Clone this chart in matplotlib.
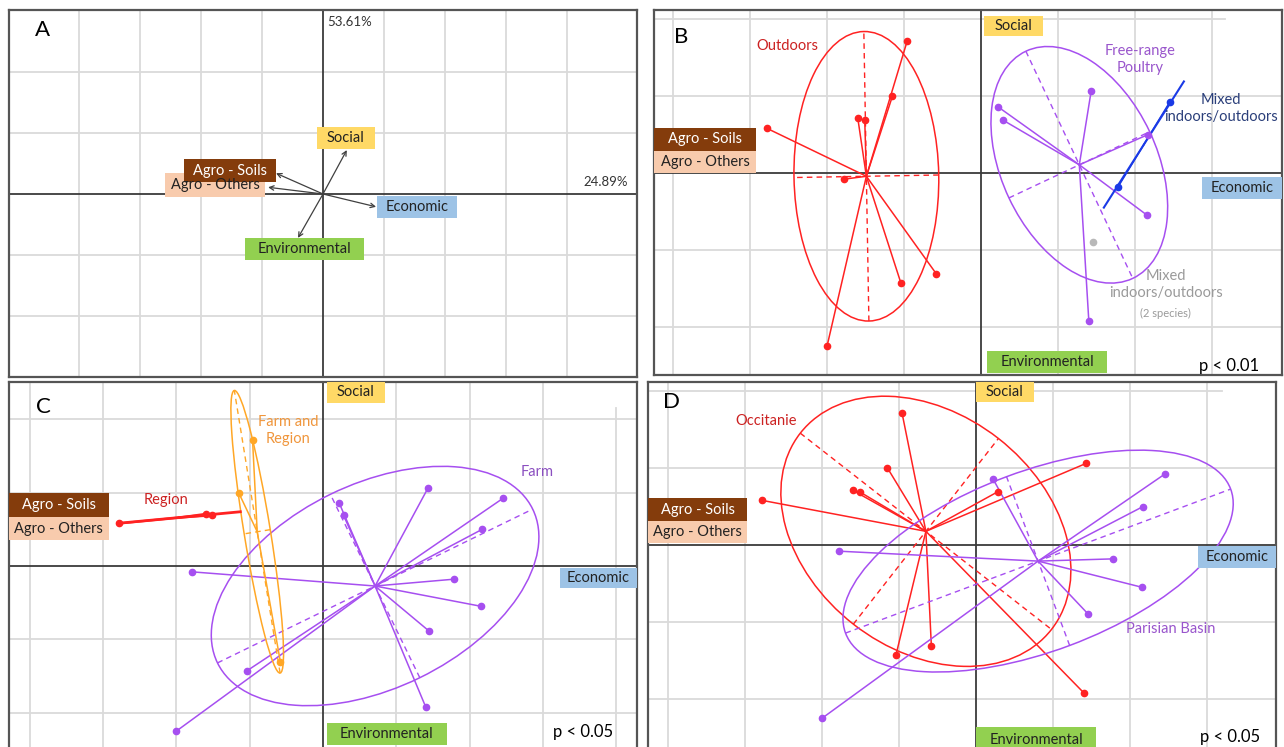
import numpy as np
import matplotlib
matplotlib.use("Agg")
import matplotlib.pyplot as plt
from matplotlib.patches import Ellipse, Rectangle

plt.rcParams['font.family'] = ['Lato', 'DejaVu Sans']

# dimension arrows of panel A (first two axes)
dims = ['Social', 'Agro - Soils', 'Agro - Others', 'Economic', 'Environmental']
dim_x = [0.39, -0.77, -0.90, 0.87, -0.41]
dim_y = [0.72, 0.34, 0.11, -0.21, -0.72]
axis_pct = ['24.89%', '53.61%']

# the 18 farms, same coordinates in panels B, C and D
farm_x = [-0.96, -1.15, -1.60, -1.51, -2.78, -1.78, -2.00, -1.04, -0.58,
          1.43, 0.22, 0.28, 2.17, 2.16, 1.40, 1.78, 2.45, 1.45]
farm_y = [1.71, 1.00, 0.71, 0.69, 0.58, -0.08, -2.25, -1.43, -1.31,
          1.06, 0.86, 0.69, 0.50, -0.55, -1.92, -0.18, 0.92, -0.89]

# group of each farm per panel
group_b = ['Outdoors'] * 9 + ['Free-range Poultry'] * 6 + ['Mixed'] * 2 + ['Mixed 2 species']
group_c = ['Farm and Region', 'Farm and Region', 'Region', 'Region', 'Region',
           'Farm', 'Farm', 'Farm', 'Farm and Region'] + ['Farm'] * 9
group_d = ['Occitanie'] * 5 + ['Parisian Basin'] * 2 + ['Occitanie'] * 3 + \
          ['Parisian Basin', 'Occitanie', 'Parisian Basin', 'Parisian Basin', 'Occitanie',
           'Parisian Basin', 'Parisian Basin', 'Parisian Basin']

# ellipses: half major axis, half minor axis, angle (deg)
ell_b = ['Outdoors', 'Free-range Poultry', 'Mixed', 'Mixed 2 species']
ell_b_a = [1.88, 1.63, 0.97, 0.0]
ell_b_b = [0.94, 1.01, 0.0, 0.0]
ell_b_ang = [91.0, -64.8, 57.6, 0.0]

ell_c = ['Farm', 'Farm and Region', 'Region']
ell_c_a = [2.39, 1.95, 0.84]
ell_c_b = [1.39, 0.18, 0.0]
ell_c_ang = [26.0, 99.2, 5.4]

ell_d = ['Occitanie', 'Parisian Basin']
ell_d_a = [2.07, 2.67]
ell_d_b = [1.53, 1.17]
ell_d_ang = [-38.0, 20.5]

GRID = '#dadada'
AXIS = '#3a3a3a'
RED = '#ff2222'
PURPLE = '#a64ff0'
BLUE = '#1a3ae6'
ORANGE = '#ffa726'
GREY = '#b8b8b8'

box_style = {
    'Social': ('#ffd966', '#222222'),
    'Agro - Soils': ('#843c0c', 'white'),
    'Agro - Others': ('#f8cbad', '#222222'),
    'Economic': ('#9dc3e6', '#222222'),
    'Environmental': ('#92d050', '#222222'),
}

fig = plt.figure(figsize=(12.84, 7.47), dpi=100)
W, H = 1284, 747


def panel(x0, y0, x1, y1):
    return fig.add_axes([x0 / W, 1 - y1 / H, (x1 - x0) / W, (y1 - y0) / H])


def frame(ax, xlim, ylim, gx, gy):
    ax.set_xlim(xlim)
    ax.set_ylim(ylim)
    ax.set_xticks([])
    ax.set_yticks([])
    for s in ax.spines.values():
        s.set_color('#555555')
        s.set_linewidth(1.6)
    for v in gx:
        ax.axvline(v, color=GRID, lw=1.3, zorder=0)
    for v in gy:
        ax.axhline(v, color=GRID, lw=1.3, zorder=0)
    ax.axvline(0, color=AXIS, lw=1.3, zorder=1)
    ax.axhline(0, color=AXIS, lw=1.3, zorder=1)


def box(ax, x, y, w, h, label, fs=10.5):
    fc, tc = box_style[label]
    ax.add_patch(Rectangle((x, y), w, h, fc=fc, ec='none', zorder=6, clip_on=False))
    ax.text(x + w / 2, y + h / 2, label, color=tc, fontsize=fs, ha='center', va='center', zorder=7)


def draw_groups(ax, groups, names, a_list, b_list, ang_list, colors, lws):
    x = np.array(farm_x)
    y = np.array(farm_y)
    g = np.array(groups)
    for name, a, b, ang, col, lw in zip(names, a_list, b_list, ang_list, colors, lws):
        m = g == name
        cx, cy = x[m].mean(), y[m].mean()
        for px, py in zip(x[m], y[m]):
            ax.plot([cx, px], [cy, py], color=col, lw=lw, zorder=2)
        ax.plot(x[m], y[m], 'o', color=col, ms=4.5, zorder=3)
        if a <= 0:
            continue
        t = np.deg2rad(ang)
        ux, uy = np.cos(t), np.sin(t)
        if b > 0:
            ax.add_patch(Ellipse((cx, cy), 2 * a, 2 * b, angle=ang, fill=False, ec=col, lw=1.1, zorder=2))
            ax.plot([cx - a * ux, cx + a * ux], [cy - a * uy, cy + a * uy], color=col, lw=1.0, ls=(0, (4, 3)), zorder=2)
            ax.plot([cx + b * uy, cx - b * uy], [cy - b * ux, cy + b * ux], color=col, lw=1.0, ls=(0, (4, 3)), zorder=2)
        else:
            ax.plot([cx - a * ux, cx + a * ux], [cy - a * uy, cy + a * uy], color=col, lw=lw + 0.4, zorder=2)


# ---------------- panel A ----------------
axA = panel(9, 10, 637, 377)
frame(axA, (-5.148, 5.148), (-3.0, 3.016), [-4, -3, -2, -1, 1, 2, 3, 4], [-2, -1, 1, 2])
for dx, dy in zip(dim_x, dim_y):
    axA.annotate('', xy=(dx, dy), xytext=(0, 0), zorder=5,
                 arrowprops=dict(arrowstyle='->', color='#404040', lw=0.9,
                                 shrinkA=0, shrinkB=0, mutation_scale=8))
box(axA, -2.59, -0.05, 1.64, 0.39, 'Agro - Others')
box(axA, -2.28, 0.20, 1.51, 0.37, 'Agro - Soils')
box(axA, -0.10, 0.74, 0.95, 0.36, 'Social')
box(axA, 0.885, -0.39, 1.31, 0.36, 'Economic')
box(axA, -1.28, -1.08, 1.95, 0.36, 'Environmental')
axA.text(0.07, 2.82, axis_pct[1], fontsize=9.5, ha='left', va='center', color='#333333')
axA.text(5.0, 0.2, axis_pct[0], fontsize=9.5, ha='right', va='center', color='#333333')
axA.text(-4.6, 2.69, 'A', fontsize=16, ha='center', va='center')

# ---------------- panel B ----------------
axB = panel(654, 10, 1282, 375)
frame(axB, (-4.247, 3.909), (-2.623, 2.117), [-4, -3, -2, -1, 1, 2, 3], [-2, -1, 1])
axB.plot([-4.247, 3.17], [2, 2], color=GRID, lw=1.3, zorder=0)
draw_groups(axB, group_b, ell_b, ell_b_a, ell_b_b, ell_b_ang,
            [RED, PURPLE, BLUE, GREY], [1.1, 1.1, 1.1, 1.1])
box(axB, 0.04, 1.78, 0.77, 0.26, 'Social')
box(axB, -4.25, 0.29, 1.33, 0.30, 'Agro - Soils')
box(axB, -4.25, 0.0, 1.33, 0.29, 'Agro - Others')
box(axB, 2.87, -0.34, 1.04, 0.29, 'Economic')
box(axB, 0.08, -2.60, 1.56, 0.29, 'Environmental')
axB.text(-3.90, 1.77, 'B', fontsize=16, ha='center', va='center')
axB.text(-2.51, 1.65, 'Outdoors', fontsize=10.5, color='#cc2222', ha='center', va='center')
axB.text(2.06, 1.47, 'Free-range\nPoultry', fontsize=10.5, color='#9955cc', ha='center', va='center', linespacing=1.3)
axB.text(3.12, 0.84, 'Mixed\nindoors/outdoors', fontsize=10.5, color='#2b3f7a', ha='center', va='center', linespacing=1.3)
axB.text(2.40, -1.45, 'Mixed\nindoors/outdoors', fontsize=10.5, color='#9a9a9a', ha='center', va='center', linespacing=1.3)
axB.text(2.40, -1.82, '(2 species)', fontsize=8, color='#9a9a9a', ha='center', va='center')
axB.text(3.22, -2.51, 'p < 0.01', fontsize=12, ha='center', va='center')

# ---------------- panel C ----------------
axC = panel(9, 382, 637, 752)
frame(axC, (-4.28, 4.28), (-2.534, 2.507), [-4, -3, -2, -1, 1, 2, 3], [-2, -1, 1, 2])
axC.plot([4, 4], [-2.534, 2.15], color=GRID, lw=1.3, zorder=0)
draw_groups(axC, group_c, ell_c, ell_c_a, ell_c_b, ell_c_ang,
            [PURPLE, ORANGE, RED], [1.1, 1.1, 1.6])
box(axC, 0.05, 2.22, 0.79, 0.29, 'Social')
box(axC, -4.28, 0.67, 1.36, 0.32, 'Agro - Soils')
box(axC, -4.28, 0.35, 1.36, 0.32, 'Agro - Others')
box(axC, 3.23, -0.30, 1.05, 0.27, 'Economic')
box(axC, 0.05, -2.44, 1.64, 0.30, 'Environmental')
axC.text(-3.81, 2.17, 'C', fontsize=16, ha='center', va='center')
axC.text(-0.48, 1.85, 'Farm and\nRegion', fontsize=10.5, color='#f0963c', ha='center', va='center', linespacing=1.3)
axC.text(2.92, 1.28, 'Farm', fontsize=10.5, color='#8b4fc0', ha='center', va='center')
axC.text(-2.14, 0.90, 'Region', fontsize=10.5, color='#cc2222', ha='center', va='center')
axC.text(3.54, -2.26, 'p < 0.05', fontsize=12, ha='center', va='center')

# ---------------- panel D ----------------
axD = panel(648, 382, 1276, 752)
frame(axD, (-4.26, 3.896), (-2.688, 2.117), [-4, -3, -2, -1, 1, 2, 3], [-2, -1, 1])
axD.plot([-4.26, 3.19], [2, 2], color=GRID, lw=1.3, zorder=0)
draw_groups(axD, group_d, ell_d, ell_d_a, ell_d_b, ell_d_ang,
            [RED, PURPLE], [1.1, 1.1])
box(axD, 0.0, 1.86, 0.75, 0.26, 'Social')
box(axD, -4.26, 0.31, 1.29, 0.30, 'Agro - Soils')
box(axD, -4.26, 0.03, 1.29, 0.28, 'Agro - Others')
box(axD, 2.88, -0.30, 1.02, 0.29, 'Economic')
box(axD, 0.0, -2.70, 1.56, 0.34, 'Environmental')
axD.text(-3.95, 1.86, 'D', fontsize=16, ha='center', va='center')
axD.text(-2.72, 1.61, 'Occitanie', fontsize=10.5, color='#cc2222', ha='center', va='center')
axD.text(2.53, -1.09, 'Parisian Basin', fontsize=10.5, color='#9955cc', ha='center', va='center')
axD.text(3.30, -2.49, 'p < 0.05', fontsize=12, ha='center', va='center')

fig.savefig('out.png', dpi=100)
